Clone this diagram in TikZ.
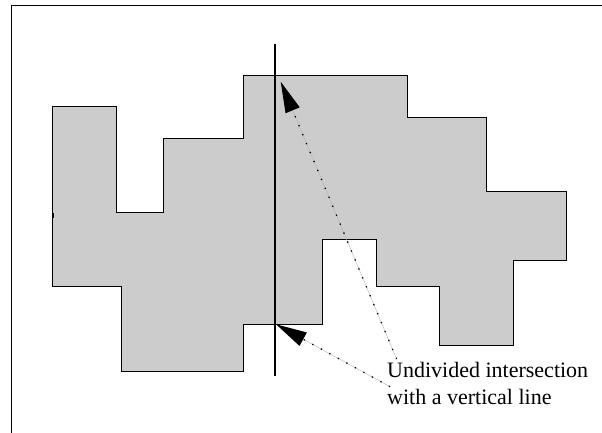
\documentclass[tikz,border=0pt]{standalone}
\usepackage{fontspec}
\setmainfont{Liberation Serif}
\usetikzlibrary{arrows.meta}
\begin{document}
\begin{tikzpicture}[x=1pt,y=-1pt,
  region/.style={fill=black!20,draw=black,line width=1pt,line join=miter},
  frameline/.style={draw=black,line width=1pt},
  cutline/.style={draw=black,line width=1.3pt},
  pointer/.style={line width=1.3pt,dash pattern=on 1.3pt off 8.4pt,-{Triangle[length=31pt,width=15pt]}},
  pointerbase/.style={draw=black!30,line width=0.4pt,shorten >=28pt},
  labeltext/.style={anchor=base west,inner sep=0pt,font=\fontsize{22}{26}\selectfont}]
\useasboundingbox (0,0) rectangle (602,433);
% frame
\draw[frameline] (11,433) -- (11,6) -- (602,6);
% polygon
\path[region] (52.7,107) -- (116.3,107) -- (116.3,212.3) -- (163.7,212.3) -- (163.7,138.3)
  -- (243.3,138.3) -- (243.3,75.3) -- (407.3,75.3) -- (407.3,117.3) -- (486.7,117.3)
  -- (486.7,191.3) -- (566.3,191.3) -- (566.3,260) -- (513.3,260) -- (513.3,345)
  -- (439.3,345) -- (439.3,286.7) -- (376,286.7) -- (376,239.3) -- (322.7,239.3)
  -- (322.7,324) -- (243.3,324) -- (243.3,371.7) -- (121.7,371.7) -- (121.7,286.7)
  -- (52.7,286.7) -- cycle;
\fill[black] (51.5,212.5) rectangle (54,217.5);
% vertical line
\coordinate (vtop) at (275,43.7);
\coordinate (vbot) at (275,376);
\draw[cutline] (vtop) -- (vbot);
% labels
\node[labeltext] (line1) at (387,377.3) {Undivided intersection};
\node[labeltext] (line2) at (387,404) {with a vertical line};
% pointers
\coordinate (tipA) at (280.7,81.7);
\coordinate (tipB) at (276,324.3);
\coordinate (startA) at (396.6,359);
\coordinate (startB) at (390,386.7);
\draw[pointerbase] (startA) -- (tipA);
\draw[pointerbase] (startB) -- (tipB);
\draw[pointer] (startA) -- (tipA);
\draw[pointer] (startB) -- (tipB);
\end{tikzpicture}
\end{document}
